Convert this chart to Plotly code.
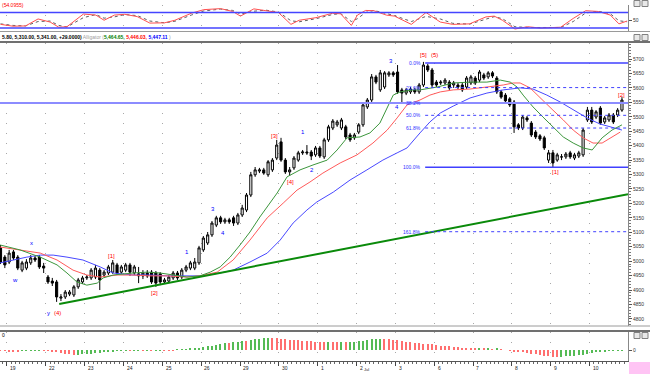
import plotly.graph_objects as go

W, H = 650, 374
R_MARGIN = 22

# ---------------- data ----------------
candle_open = [5046, 5014, 4997, 5032, 5014, 4969, 4976, 4994, 5011, 5014,
               4983, 4945, 4931, 4928, 4872, 4876, 4886, 4883, 4911, 4928,
               4942, 4942, 4945, 4969, 4952, 4959, 4962, 4987, 4962, 4969,
               4987, 4959, 4956, 4949, 4959, 4962, 4959, 4956, 4928, 4931,
               4942, 4959, 4945, 4969, 4976, 4976, 4994, 5039, 5063, 5091,
               5125, 5150, 5136, 5143, 5150, 5132, 5160, 5177, 5229, 5299,
               5312, 5316, 5299, 5316, 5357, 5413, 5350, 5309, 5323, 5350,
               5375, 5378, 5378, 5368, 5392, 5361, 5420, 5461, 5472, 5461,
               5465, 5437, 5427, 5447, 5472, 5534, 5558, 5638, 5593, 5603,
               5645, 5652, 5655, 5593, 5582, 5586, 5593, 5586, 5610, 5676,
               5662, 5620, 5617, 5617, 5620, 5610, 5610, 5610, 5603, 5617,
               5634, 5627, 5645, 5638, 5652, 5634, 5586, 5575, 5562, 5551,
               5472, 5461, 5496, 5478, 5447, 5434, 5427, 5350, 5375, 5350,
               5361, 5361, 5375, 5357, 5364, 5368, 5489, 5523, 5499, 5530,
               5482, 5489, 5506, 5506, 5523]
candle_high = [5056, 5021, 5039, 5039, 5021, 5001, 5007, 5021, 5018, 5021,
               4994, 4952, 4942, 4935, 4886, 4900, 4900, 4917, 4942, 4949,
               4952, 4976, 4987, 4976, 4969, 4987, 5004, 4994, 4987, 4994,
               4994, 4987, 4980, 4969, 4969, 4969, 4966, 4962, 4942, 4952,
               4966, 4966, 4976, 4987, 5001, 5011, 5053, 5087, 5101, 5139,
               5157, 5157, 5150, 5150, 5157, 5167, 5195, 5236, 5309, 5326,
               5323, 5323, 5350, 5357, 5420, 5427, 5357, 5326, 5364, 5382,
               5385, 5402, 5385, 5399, 5399, 5427, 5472, 5492, 5489, 5496,
               5472, 5444, 5444, 5478, 5548, 5565, 5648, 5645, 5662, 5658,
               5658, 5658, 5679, 5600, 5600, 5603, 5600, 5617, 5690, 5683,
               5669, 5627, 5627, 5634, 5627, 5624, 5617, 5617, 5641, 5645,
               5641, 5662, 5652, 5658, 5658, 5641, 5593, 5582, 5568, 5558,
               5478, 5506, 5503, 5485, 5454, 5440, 5434, 5385, 5385, 5375,
               5371, 5378, 5382, 5375, 5382, 5461, 5534, 5534, 5523, 5537,
               5503, 5513, 5513, 5530, 5568]
candle_low = [4990, 4976, 4990, 5004, 4969, 4962, 4969, 4987, 4997, 4973,
              4959, 4921, 4914, 4859, 4862, 4869, 4879, 4876, 4904, 4921,
              4935, 4935, 4938, 4900, 4945, 4952, 4956, 4952, 4956, 4962,
              4949, 4952, 4924, 4938, 4942, 4921, 4911, 4917, 4921, 4924,
              4935, 4935, 4938, 4962, 4969, 4969, 4987, 5032, 5056, 5084,
              5118, 5129, 5129, 5129, 5122, 5125, 5153, 5170, 5222, 5292,
              5305, 5299, 5292, 5309, 5350, 5344, 5302, 5295, 5316, 5344,
              5368, 5368, 5350, 5361, 5357, 5354, 5413, 5454, 5465, 5454,
              5423, 5413, 5420, 5440, 5465, 5527, 5551, 5613, 5586, 5596,
              5638, 5638, 5579, 5548, 5575, 5579, 5579, 5579, 5603, 5655,
              5603, 5603, 5610, 5610, 5593, 5600, 5596, 5586, 5596, 5610,
              5610, 5620, 5627, 5631, 5634, 5579, 5562, 5548, 5534, 5444,
              5454, 5454, 5482, 5430, 5423, 5416, 5385, 5340, 5323, 5344,
              5350, 5354, 5354, 5350, 5357, 5361, 5482, 5475, 5492, 5472,
              5475, 5482, 5475, 5499, 5517]
candle_close = [4997, 4987, 5028, 5011, 4976, 4994, 4997, 5011, 5004, 4980,
                4976, 4928, 4924, 4876, 4876, 4893, 4893, 4911, 4935, 4942,
                4945, 4969, 4976, 4935, 4962, 4980, 4994, 4959, 4980, 4987,
                4962, 4980, 4949, 4959, 4949, 4928, 4924, 4928, 4935, 4945,
                4959, 4942, 4969, 4980, 4994, 4997, 5046, 5080, 5091, 5132,
                5150, 5136, 5143, 5136, 5132, 5160, 5184, 5229, 5299, 5316,
                5316, 5305, 5344, 5350, 5402, 5350, 5309, 5316, 5357, 5375,
                5378, 5375, 5364, 5392, 5364, 5420, 5465, 5485, 5482, 5489,
                5430, 5420, 5437, 5472, 5541, 5558, 5638, 5620, 5652, 5652,
                5652, 5645, 5586, 5582, 5593, 5596, 5586, 5610, 5679, 5662,
                5610, 5610, 5620, 5627, 5600, 5617, 5603, 5593, 5634, 5638,
                5617, 5655, 5634, 5652, 5641, 5586, 5568, 5555, 5541, 5465,
                5461, 5499, 5489, 5437, 5430, 5423, 5392, 5375, 5340, 5368,
                5361, 5371, 5361, 5368, 5375, 5454, 5523, 5482, 5517, 5478,
                5496, 5506, 5482, 5523, 5558]

# Alligator lines (bar index, price)
jaw_x = [-0.1, 2.9, 6.1, 9.2, 12.2, 15.4, 19.1, 23.1, 26.1, 30.7, 34.6, 38.6, 43.2, 46.2,
         50.9, 53.9, 57.8, 61.8, 64.8, 67.8, 71.0, 73.3, 77.1, 81.0, 84.9, 88.6, 91.9, 94.2,
         97.2, 99.5, 101.9, 104.9, 108.8, 112.7, 116.5, 120.4, 123.4, 126.6, 129.7, 132.7,
         135.9, 138.9, 142.0, 144.0]
jaw_y = [4994, 5004, 5014, 5021, 5021, 5014, 5004, 4980, 4959, 4952, 4952, 4949, 4949, 4949,
         4959, 4969, 4997, 5028, 5073, 5132, 5177, 5205, 5239, 5281, 5316, 5350, 5375, 5392,
         5444, 5482, 5513, 5537, 5565, 5582, 5593, 5600, 5596, 5575, 5551, 5523,
         5496, 5475, 5461, 5454]
teeth_x = [-0.1, 4.5, 9.2, 13.1, 16.8, 20.0, 23.1, 27.0, 30.7, 34.6, 38.6, 43.2, 46.2, 50.2,
           53.9, 57.8, 61.8, 65.5, 68.7, 71.7, 74.7, 78.7, 82.6, 86.3, 89.6, 91.9, 94.2, 97.2,
           99.5, 101.9, 104.9, 108.8, 112.7, 116.5, 118.8, 120.4, 122.7, 125.0, 128.0, 130.4,
           132.7, 135.0, 137.3, 139.4, 141.3, 143.6]
teeth_y = [5049, 5039, 5028, 5004, 4969, 4952, 4945, 4952, 4952, 4949, 4949, 4945, 4949, 4962,
           5004, 5073, 5150, 5201, 5246, 5274, 5305, 5340, 5368, 5409, 5454, 5496, 5541, 5558,
           5575, 5586, 5593, 5596, 5603, 5610, 5617, 5617, 5600, 5568, 5523, 5489,
           5454, 5427, 5409, 5409, 5427, 5447]
lips_x = [-0.1, 4.5, 9.2, 13.1, 15.4, 17.7, 20.0, 22.4, 23.8, 26.1, 30.7, 34.0, 37.0, 40.0,
          43.2, 46.2, 48.6, 50.9, 53.2, 55.5, 57.8, 60.1, 62.5, 64.1, 66.4, 69.4, 72.4, 75.7,
          78.0, 80.3, 83.3, 85.6, 87.9, 89.6, 91.0, 92.6, 95.6, 97.2, 101.2, 104.9, 108.8,
          112.7, 115.8, 118.1, 119.7, 121.1, 123.4, 125.7, 128.0, 130.4, 132.7, 135.0, 137.1,
          139.4, 141.7, 144.0]
lips_y = [5056, 5039, 5014, 4987, 4959, 4928, 4917, 4924, 4942, 4952, 4959, 4962, 4959, 4952,
          4945, 4949, 4962, 4980, 5014, 5056, 5101, 5153, 5201, 5236, 5292, 5316, 5333, 5350,
          5385, 5427, 5430, 5444, 5478, 5534, 5575, 5586, 5593, 5593, 5603, 5617, 5620,
          5620, 5627, 5620, 5603, 5575, 5534, 5499, 5465, 5430, 5409, 5392, 5385,
          5427, 5454, 5472]

# trend line (bar index, price)
trend_x = [13.6, 145.4]
trend_y = [4852, 5232]

# Fibonacci levels
fib_labels = ["0.0%", "23.6%", "38.2%", "50.0%", "61.8%", "100.0%", "161.8%"]
fib_prices = [5686, 5601, 5548, 5505, 5461, 5325, 5102]
fib_solid = [True, False, True, False, False, True, False]

# Elliott wave labels
wave_text = ["w", "x", "y", "(4)", "[1]", "[2]", "1", "3", "4", "[3]", "[4]", "1", "2",
             "3", "4", "[5]", "(5)", "[1]", "[2]"]
wave_x = [3.4, 7.1, 11.2, 13.3, 25.6, 35.6, 43.2, 49.2, 51.6, 63.6, 67.1, 70.1, 72.2,
          90.5, 91.9, 98.1, 100.5, 128.7, 144.0]
wave_y = [4935, 5063, 4820, 4820, 5018, 4890, 5032, 5181, 5097, 5433, 5274, 5447, 5316,
          5693, 5534, 5714, 5714, 5309, 5575]
wave_red = [False, False, False, True, True, True, False, False, False, True, True, False, False,
            False, False, True, True, True, True]

# Oscillator (top panel)
osc_x = [0, 2.9, 5.8, 8.7, 11.5, 13.5, 15.4, 19.2, 22.1, 24, 26.4, 28.8, 31.7, 34.6, 38,
         40.4, 44.2, 47.1, 51, 53.8, 55.6, 58.7, 61.5, 64.4, 67.3, 69.2, 73.1, 76.9, 78.8,
         81.3, 82.7, 84.6, 86.5, 89.4, 91.3, 95.2, 98.6, 101.9, 104.8, 108.7, 112.5, 114.4,
         116.3, 119.2, 122.1, 125, 129.8, 132.7, 135.6, 138.5, 141.3, 143.3, 145.2]
osc_k = [34, 27, 28, 55, 43, 23, 25, 74, 70, 50, 70, 73, 64, 39, 40, 50, 77, 91, 95, 84, 66,
         94, 87, 80, 34, 50, 60, 77, 75, 30, 70, 88, 87, 70, 66, 34, 80, 43, 34, 36, 63, 66,
         50, 16, 25, 20, 23, 57, 87, 84, 70, 36, 47]
osc_d = [36, 30, 28, 45, 47, 30, 24, 60, 72, 58, 63, 72, 68, 47, 40, 46, 70, 86, 93, 88, 74,
         85, 89, 82, 48, 44, 56, 72, 76, 45, 56, 80, 88, 76, 68, 45, 65, 55, 38, 35, 55, 64,
         56, 25, 22, 21, 22, 45, 78, 85, 75, 48, 44]
osc_levels = [80, 20]

# Awesome-oscillator style histogram (one value per bar)
ao_values = [-6, -8, -10, -11, -11, -9,
             -6, -4, -3, -2, -2,
             -5, -12, -20, -28, -35, -40, -45,
             -44, -40, -36, -32, -28, -25, -20, -16,
             -12, -9, -7, -5, -6, -4, -3, -4,
             -2, -3, -2, -1,
             -2, -3, -4,
             2, 5, 8, 12, 15, 20, 26, 32,
             40, 48, 55, 62, 60, 68, 75, 82, 80, 88,
             95, 100, 104, 108, 106, 104, 100,
             96, 92, 88, 86, 82, 80, 78, 75, 73, 72,
             74, 73, 70, 72, 70, 72,
             76, 80, 85, 90, 95, 96, 98, 97, 95,
             90, 86, 80, 76, 70, 64, 60, 58, 55, 50, 46, 40, 36, 33, 30, 26, 22, 18, 15, 12,
             13, 11, 12, 9, 10, 6, 0,
             -5, -12, -16, -20, -26, -32, -38, -44, -50, -55, -60, -62,
             -60, -58, -55, -52, -48, -42, -36, -30, -22, -15, -10, -8, -6, -5, -4]

day_labels = ["19", "22", "23", "24", "25", "26", "29", "30", "1", "2", "3", "6", "7", "8", "9", "10"]
month_label = "Jul"
price_ticks = [4800, 4850, 4900, 4950, 5000, 5050, 5100, 5150, 5200, 5250, 5300, 5350,
               5400, 5450, 5500, 5550, 5600, 5650, 5700]

# ---------------- figure ----------------
PLOT_W = W - R_MARGIN


def py(px):
    return 1 - px / H


def pxx(px):
    return px / PLOT_W


X_RANGE = [-0.12, 145.4]
bar_idx = list(range(len(candle_open)))
day_ticks = [1.5 + 9 * d for d in range(len(day_labels))]
FONT = "Liberation Sans, Arial, sans-serif"
GRID = dict(showgrid=True, gridcolor="#a8a8a8", griddash="1px,9px", gridwidth=1)

fig = go.Figure()

fig.add_trace(go.Candlestick(
    x=bar_idx, open=candle_open, high=candle_high, low=candle_low, close=candle_close,
    increasing=dict(line=dict(color="black", width=1), fillcolor="white"),
    decreasing=dict(line=dict(color="black", width=1), fillcolor="black"),
    whiskerwidth=0, xaxis="x", yaxis="y", showlegend=False, hoverinfo="skip"))

fig.add_trace(go.Scatter(x=jaw_x, y=jaw_y, mode="lines", line=dict(color="#4848ff", width=1),
                         xaxis="x", yaxis="y", showlegend=False, hoverinfo="skip"))
fig.add_trace(go.Scatter(x=teeth_x, y=teeth_y, mode="lines", line=dict(color="#ff5a5a", width=1),
                         xaxis="x", yaxis="y", showlegend=False, hoverinfo="skip"))
fig.add_trace(go.Scatter(x=lips_x, y=lips_y, mode="lines", line=dict(color="#3c963c", width=1),
                         xaxis="x", yaxis="y", showlegend=False, hoverinfo="skip"))
fig.add_trace(go.Scatter(x=trend_x, y=trend_y, mode="lines", line=dict(color="#0a8a0a", width=2),
                         xaxis="x", yaxis="y", showlegend=False, hoverinfo="skip"))

fig.add_trace(go.Scatter(x=osc_x, y=osc_d, mode="lines", line=dict(color="#606060", width=1, dash="dot"),
                         xaxis="x2", yaxis="y2", showlegend=False, hoverinfo="skip"))
fig.add_trace(go.Scatter(x=osc_x, y=osc_k, mode="lines", line=dict(color="#ff5050", width=1),
                         xaxis="x2", yaxis="y2", showlegend=False, hoverinfo="skip"))

ao_colors = []
for k, v in enumerate(ao_values):
    prev = ao_values[k - 1] if k > 0 else v
    ao_colors.append("#55bb55" if v > prev else "#ff6f6f")
fig.add_trace(go.Bar(x=bar_idx, y=ao_values, marker=dict(color=ao_colors, line=dict(width=0)),
                     width=0.3, xaxis="x3", yaxis="y3", showlegend=False, hoverinfo="skip"))

shapes = []
for lab, p, solid in zip(fib_labels, fib_prices, fib_solid):
    x0 = X_RANGE[0] if lab == "38.2%" else 98.4
    shapes.append(dict(type="line", xref="x", yref="y", x0=x0, x1=X_RANGE[1], y0=p, y1=p,
                       line=dict(color="#8c8cff" if lab == "38.2%" else "#4040ff",
                                 width=2 if lab == "38.2%" else (1.5 if solid else 1),
                                 dash="solid" if solid else "dot")))
for lv in osc_levels:
    shapes.append(dict(type="line", xref="x2 domain", yref="y2", x0=0, x1=1, y0=lv, y1=lv,
                       line=dict(color="#4444ff", width=1.5)))
for px, col, wd in [(31.5, "#9a9a9a", 1), (42, "#707070", 2), (326, "#9a9a9a", 1), (331, "#707070", 2)]:
    shapes.append(dict(type="line", xref="paper", yref="paper", x0=0, x1=pxx(W), y0=py(px), y1=py(px),
                       line=dict(color=col, width=wd)))
for ytop in [0.5, 34.5, 332.5]:
    for xl in [634, 642]:
        shapes.append(dict(type="rect", xref="paper", yref="paper",
                           x0=pxx(xl), x1=pxx(xl + 6), y0=py(ytop + 6), y1=py(ytop),
                           line=dict(color="#808080", width=1), fillcolor="#e8e8e8"))
shapes.append(dict(type="rect", xref="paper", yref="paper", x0=pxx(629), x1=pxx(W), y0=py(H), y1=py(362),
                   line=dict(width=0), fillcolor="#ffc4f4"))

annotations = []
for t, x, y, red in zip(wave_text, wave_x, wave_y, wave_red):
    annotations.append(dict(x=x, y=y, xref="x", yref="y", text=t, showarrow=False,
                            font=dict(family=FONT, size=6, color="#ff0000" if red else "#0000ff")))
for lab, p in zip(fib_labels, fib_prices):
    annotations.append(dict(x=97.9, y=p, xref="x", yref="y", text=lab, showarrow=False,
                            xanchor="right", yanchor="middle",
                            font=dict(family=FONT, size=5, color="#3030ff")))
for lab, t in zip(day_labels, day_ticks):
    annotations.append(dict(x=t + 0.3, y=py(363), xref="x3", yref="paper", text=lab, showarrow=False,
                            xanchor="left", yanchor="top", font=dict(family=FONT, size=5, color="#222")))
annotations.append(dict(x=day_ticks[9] + 1.3, y=py(365), xref="x3", yref="paper", text=month_label,
                        showarrow=False, xanchor="left", yanchor="top",
                        font=dict(family=FONT, size=4, color="#222")))
annotations.append(dict(x=0, y=py(0), xref="paper", yref="paper", text="(54.0955)", showarrow=False,
                        xanchor="left", yanchor="top", font=dict(family=FONT, size=5, color="#ff0000")))
annotations.append(dict(x=0, y=py(37), xref="paper", yref="paper", showarrow=False,
                        xanchor="left", yanchor="middle",
                        text=("<b>5.80, 5,310.00, 5,341.00, +29.0000)</b> "
                              "<span style='color:#a0a0a0'>Alligator (</span>"
                              "<b><span style='color:#008000'>5,464.65,</span> "
                              "<span style='color:#ff0000'>5,446.03,</span> "
                              "<span style='color:#0000ff'>5,447.11</span></b>"
                              "<span style='color:#a0a0a0'> )</span>"),
                        font=dict(family=FONT, size=5, color="#000")))
annotations.append(dict(x=0, y=py(335), xref="paper", yref="paper", text="0", showarrow=False,
                        xanchor="left", yanchor="middle", font=dict(family=FONT, size=5, color="#000")))

axis_font = dict(family=FONT, size=5, color="#333")
fig.update_layout(
    width=W, height=H, autosize=False,
    margin=dict(l=0, r=R_MARGIN, t=0, b=0, pad=0),
    paper_bgcolor="white", plot_bgcolor="white",
    showlegend=False, bargap=0,
    shapes=shapes, annotations=annotations,
    xaxis=dict(domain=[0, 1], range=X_RANGE, anchor="y", tickmode="array", tickvals=day_ticks,
               showticklabels=False, ticks="", zeroline=False, rangeslider=dict(visible=False), **GRID),
    yaxis=dict(domain=[py(326), py(43)], range=[4775.5, 5755.4], side="right", anchor="x",
               tickmode="array", tickvals=price_ticks, ticks="outside", ticklen=3, tickcolor="#555",
               minor=dict(dtick=10, ticks="outside", ticklen=2, tickcolor="#777", showgrid=False),
               showline=True, linecolor="#888", linewidth=1, showgrid=False, zeroline=False,
               tickfont=axis_font),
    xaxis2=dict(domain=[0, 1], range=X_RANGE, anchor="y2", tickmode="array", tickvals=day_ticks,
                showticklabels=False, ticks="", zeroline=False, **GRID),
    yaxis2=dict(domain=[py(31), py(5)], range=[8.4, 109], side="right", anchor="x2",
                tickmode="array", tickvals=[50], ticks="outside", ticklen=3, tickcolor="#555",
                showline=True, linecolor="#888", showgrid=False, zeroline=False, tickfont=axis_font),
    xaxis3=dict(domain=[0, 1], range=X_RANGE, anchor="y3", tickmode="array", tickvals=day_ticks,
                showticklabels=False, ticks="outside", ticklen=4, tickcolor="#444",
                minor=dict(dtick=1, tick0=0.5, ticks="outside", ticklen=2, tickcolor="#666", showgrid=False),
                showline=True, linecolor="#555", zeroline=False, **GRID),
    yaxis3=dict(domain=[py(361), py(332)], range=[-99, 162], side="right", anchor="x3",
                tickmode="array", tickvals=[0], ticks="outside", ticklen=3, tickcolor="#555",
                showline=True, linecolor="#888", showgrid=False, zeroline=False, tickfont=axis_font),
)

fig.write_html("out.html", config={"displayModeBar": False},
               post_script="document.body.style.margin='0';document.body.style.padding='0';")
